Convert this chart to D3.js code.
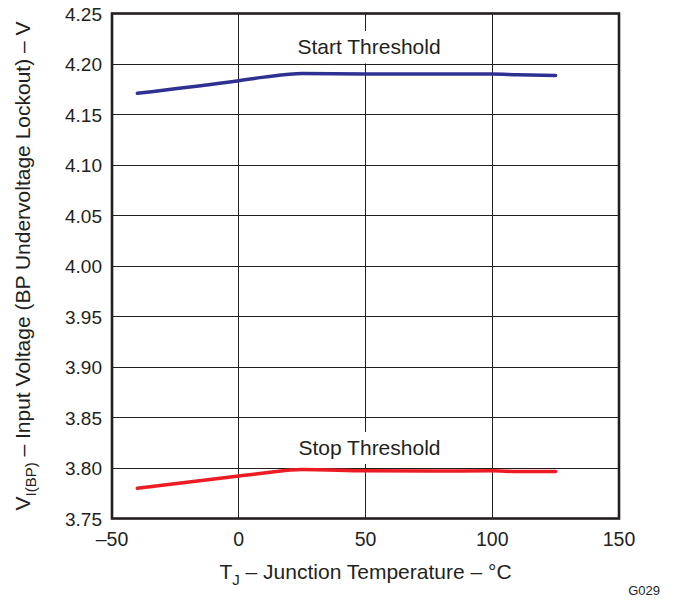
<!DOCTYPE html>
<html>
<head>
<meta charset="utf-8">
<script src="https://cdn.jsdelivr.net/npm/d3@7"></script>
<style>
  body { margin: 0; background: #fff; }
  text { font-family: "Liberation Sans", Arial, sans-serif; fill: #231f20; }
</style>
</head>
<body>
<script>
const width = 674;
const height = 600;

// data
const temps = [-40, 0, 10, 25, 50, 75, 100, 110, 125];
const startThreshold = [4.171, 4.1835, 4.187, 4.1905, 4.190, 4.190, 4.190, 4.1893, 4.1886];
const stopThreshold = [3.780, 3.792, 3.795, 3.7985, 3.7973, 3.797, 3.7972, 3.7965, 3.7966];
const xTicks = [-50, 0, 50, 100, 150];
const yTicks = [3.75, 3.80, 3.85, 3.90, 3.95, 4.00, 4.05, 4.10, 4.15, 4.20, 4.25];

const margin = { left: 112, right: 55, top: 13.5, bottom: 81.5 };

const svg = d3.select("body")
  .append("svg")
  .attr("width", width)
  .attr("height", height);

const x = d3.scaleLinear().domain([-50, 150]).range([margin.left, width - margin.right]);
const y = d3.scaleLinear().domain([3.75, 4.25]).range([height - margin.bottom, margin.top]);

// grid
svg.append("g")
  .selectAll("line")
  .data(xTicks.slice(1, -1))
  .enter()
  .append("line")
  .attr("x1", d => x(d)).attr("x2", d => x(d))
  .attr("y1", y(4.25)).attr("y2", y(3.75))
  .attr("stroke", "#231f20").attr("stroke-width", 1)
  .attr("shape-rendering", "crispEdges");

svg.append("g")
  .selectAll("line")
  .data(yTicks.slice(1, -1))
  .enter()
  .append("line")
  .attr("x1", x(-50)).attr("x2", x(150))
  .attr("y1", d => y(d)).attr("y2", d => y(d))
  .attr("stroke", "#231f20").attr("stroke-width", 1)
  .attr("shape-rendering", "crispEdges");

// label backgrounds (grid is hidden behind the labels)
svg.append("rect")
  .attr("x", 266).attr("y", 31)
  .attr("width", 207).attr("height", y(4.20) - 31 - 0.5)
  .attr("fill", "#fff");
svg.append("rect")
  .attr("x", 266).attr("y", 432)
  .attr("width", 207).attr("height", 32)
  .attr("fill", "#fff");

// series
const line = d3.line()
  .x((d, i) => x(temps[i]))
  .y(d => y(d))
  .curve(d3.curveMonotoneX);

svg.append("path")
  .datum(startThreshold)
  .attr("d", line)
  .attr("fill", "none")
  .attr("stroke", "#2e3192")
  .attr("stroke-width", 3.5)
  .attr("stroke-linecap", "round");

svg.append("path")
  .datum(stopThreshold)
  .attr("d", line)
  .attr("fill", "none")
  .attr("stroke", "#ed1c24")
  .attr("stroke-width", 3.5)
  .attr("stroke-linecap", "round");

// frame
svg.append("rect")
  .attr("x", x(-50)).attr("y", y(4.25))
  .attr("width", x(150) - x(-50))
  .attr("height", y(3.75) - y(4.25))
  .attr("fill", "none")
  .attr("stroke", "#231f20")
  .attr("stroke-width", 2.6);

// tick labels
svg.append("g")
  .selectAll("text")
  .data(yTicks)
  .enter()
  .append("text")
  .attr("x", x(-50) - 10)
  .attr("y", d => y(d) + 7)
  .attr("text-anchor", "end")
  .attr("font-size", 19)
  .text(d => d.toFixed(2));

svg.append("g")
  .selectAll("text")
  .data(xTicks)
  .enter()
  .append("text")
  .attr("x", d => x(d))
  .attr("y", 546)
  .attr("text-anchor", "middle")
  .attr("font-size", 19.5)
  .text(d => d < 0 ? "\u2013" + Math.abs(d) : d);

// series labels
svg.append("text")
  .attr("x", 369).attr("y", 54)
  .attr("text-anchor", "middle")
  .attr("font-size", 21)
  .text("Start Threshold");

svg.append("text")
  .attr("x", 369.5).attr("y", 455)
  .attr("text-anchor", "middle")
  .attr("font-size", 21)
  .text("Stop Threshold");

// axis titles
const xt = svg.append("text")
  .attr("x", x(50))
  .attr("y", 579)
  .attr("text-anchor", "middle")
  .attr("font-size", 21);
xt.append("tspan").text("T");
xt.append("tspan").attr("dy", 6).attr("font-size", 15).text("J");
xt.append("tspan").attr("dy", -6).text(" \u2013 Junction Temperature \u2013 \u00b0C");

const yt = svg.append("text")
  .attr("transform", `translate(30,${y(4.0)}) rotate(-90)`)
  .attr("text-anchor", "middle")
  .attr("font-size", 21);
yt.append("tspan").text("V");
yt.append("tspan").attr("dy", 6).attr("font-size", 15).text("I(BP)");
yt.append("tspan").attr("dy", -6).text(" \u2013 Input Voltage (BP Undervoltage Lockout) \u2013 V");

svg.append("text")
  .attr("x", 660).attr("y", 595)
  .attr("text-anchor", "end")
  .attr("font-size", 13)
  .text("G029");
</script>
</body>
</html>
